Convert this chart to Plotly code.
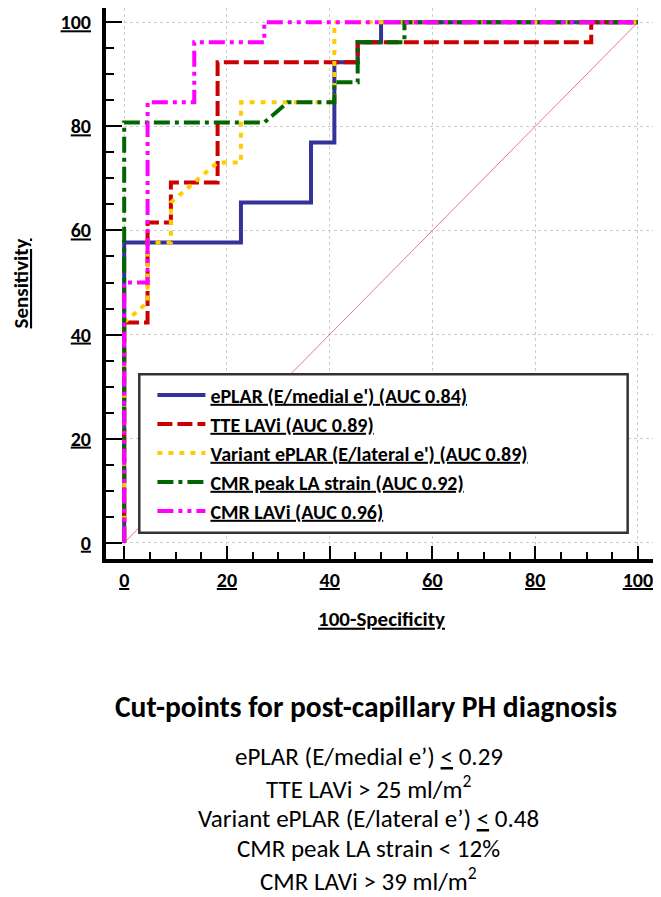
import plotly.graph_objects as go

FONT = "Calibri, Carlito, Lato, sans-serif"

# ---- data ----
names = [
    "ePLAR (E/medial e') (AUC 0.84)",
    "TTE LAVi (AUC 0.89)",
    "Variant ePLAR (E/lateral e') (AUC 0.89)",
    "CMR peak LA strain (AUC 0.92)",
    "CMR LAVi (AUC 0.96)",
]
colors = ["#333399", "#CC0000", "#FFCC00", "#006600", "#FF00FF"]
dashes = ["solid", "15px,5px", "5px,6px", "16px,5px,4px,5px", "16px,5px,4px,5px,4px,5px"]

eplar_x = [0, 0, 22.73, 22.73, 36.36, 36.36, 40.91, 40.91, 45.45, 45.45, 50.0, 50.0, 100]
eplar_y = [0, 57.69, 57.69, 65.38, 65.38, 76.92, 76.92, 92.31, 92.31, 96.15, 96.15, 100, 100]

tte_x = [0, 0, 4.55, 4.55, 9.09, 9.09, 18.18, 18.18, 45.45, 45.45, 90.91, 90.91, 100]
tte_y = [0, 42.31, 42.31, 61.54, 61.54, 69.23, 69.23, 92.31, 92.31, 96.15, 96.15, 100, 100]

variant_x = [0, 0, 4.55, 4.55, 9.09, 9.09, 18.18, 22.73, 22.73, 40.91, 40.91, 100]
variant_y = [0, 42.31, 46.15, 57.69, 57.69, 65.38, 73.08, 73.08, 84.62, 84.62, 100, 100]

strain_x = [0, 0, 27.27, 31.82, 40.91, 40.91, 45.45, 45.45, 54.55, 54.55, 100]
strain_y = [0, 80.77, 80.77, 84.62, 84.62, 88.46, 88.46, 96.15, 96.15, 100, 100]

cmr_x = [0, 0, 4.55, 4.55, 13.64, 13.64, 27.27, 27.27, 100]
cmr_y = [0, 50.0, 50.0, 84.62, 84.62, 96.15, 96.15, 100, 100]

diag_x = [0, 100]
diag_y = [0, 100]

tick_vals = [0, 20, 40, 60, 80, 100]
tick_text = ["0", "20", "40", "60", "80", "100"]

title_text = "Cut-points for post-capillary PH diagnosis"
cut_lines = [
    "ePLAR (E/medial e’) <u>&lt;</u> 0.29",
    "TTE LAVi &gt; 25 ml/m<sup>2</sup>",
    "Variant ePLAR (E/lateral e’) <u>&lt;</u> 0.48",
    "CMR peak LA strain &lt; 12%",
    "CMR LAVi &gt; 39 ml/m<sup>2</sup>",
]

xs = [eplar_x, tte_x, variant_x, strain_x, cmr_x]
ys = [eplar_y, tte_y, variant_y, strain_y, cmr_y]

fig = go.Figure()
fig.add_trace(go.Scatter(x=diag_x, y=diag_y, mode="lines",
                         line=dict(color="#dc8080", width=1),
                         showlegend=False, hoverinfo="skip"))
for n, c, d, x, y in zip(names, colors, dashes, xs, ys):
    fig.add_trace(go.Scatter(x=x, y=y, mode="lines", name=n,
                             line=dict(color=c, width=4, dash=d)))

# layout geometry (the page body adds an 8px offset, so the figure is 8px smaller)
OFF = 8
W, H = 661 - OFF, 897 - OFF
ML, MR, MT, MB = 91, 4, 0, 338
PW, PH = W - ML - MR, H - MT - MB

def py(p):  # screenshot pixel y -> paper y
    return (H - MB - (p - OFF)) / PH

def px(p):  # screenshot pixel x -> paper x
    return ((p - OFF) - ML) / PW

tickfont = dict(family=FONT, size=20, color="black", weight="bold", lineposition="under")
titlefont = dict(family=FONT, size=21, color="black", weight="bold", lineposition="under")

common = dict(showline=True, linewidth=4, linecolor="black",
              showgrid=True, gridcolor="#cccccc", griddash="dot", gridwidth=1,
              zeroline=False, tickvals=tick_vals, ticktext=tick_text,
              ticks="inside", tickwidth=2, tickcolor="black",
              tickfont=tickfont)

fig.update_xaxes(range=[-3.54, 103.71], ticklen=13,
                 minor=dict(dtick=5, ticks="inside", ticklen=7, tickwidth=2,
                            tickcolor="black", showgrid=False),
                 title=dict(text="100-Specificity", font=titlefont, standoff=21),
                 ticklabelstandoff=0, **common)
fig.update_yaxes(range=[-3.13, 102.75], ticklen=16,
                 minor=dict(dtick=5, ticks="inside", ticklen=8, tickwidth=2,
                            tickcolor="black", showgrid=False),
                 title=dict(text="Sensitivity", font=titlefont, standoff=38),
                 ticklabelstandoff=7, **common)

# legend frame
fig.add_shape(type="rect", xref="paper", yref="paper",
              x0=px(132.7), x1=px(627.3), y0=py(532.7), y1=py(374.3),
              line=dict(color="#333333", width=2.5), fillcolor="white", layer="above")

annotations = [dict(text=title_text, xref="paper", yref="paper",
                    x=px(362), y=py(707), xanchor="center", yanchor="middle",
                    showarrow=False,
                    font=dict(family=FONT, size=29.5, color="black", weight="bold"))]
for i, t in enumerate(cut_lines):
    annotations.append(dict(text=t, xref="paper", yref="paper",
                            x=px(365), y=py(757 + 30.5 * i),
                            xanchor="center", yanchor="middle", showarrow=False,
                            font=dict(family=FONT, size=25, color="black")))

fig.update_layout(
    width=W, height=H,
    margin=dict(l=ML, r=MR, t=MT, b=MB, pad=0),
    paper_bgcolor="white", plot_bgcolor="white",
    showlegend=True,
    legend=dict(x=px(146), y=py(375.5), xanchor="left", yanchor="top",
                bgcolor="rgba(0,0,0,0)", borderwidth=0,
                font=dict(family=FONT, size=20, color="black", weight="bold",
                          lineposition="under"),
                itemwidth=48, tracegroupgap=0),
    annotations=annotations,
)

fig.write_html("out.html")
